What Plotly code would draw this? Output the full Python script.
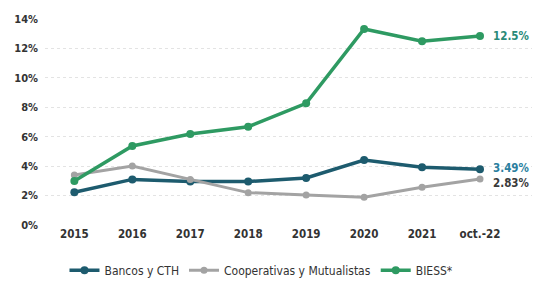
import plotly.graph_objects as go

categories = ["2015", "2016", "2017", "2018", "2019", "2020", "2021", "oct.-22"]
bancos = [2.22, 3.1, 2.95, 2.95, 3.2, 4.42, 3.92, 3.79]
cooperativas = [3.4, 4.01, 3.1, 2.2, 2.04, 1.88, 2.56, 3.13]
biess = [2.99, 5.37, 6.19, 6.68, 8.27, 13.32, 12.49, 12.85]
end_labels = ["3.49%", "2.83%", "12.5%"]
tick_vals = [0, 2, 4, 6, 8, 10, 12, 14]
tick_text = ["0%", "2%", "4%", "6%", "8%", "10%", "12%", "14%"]

c_bancos = "#1d5b6e"
c_coop = "#a3a3a3"
c_biess = "#2e9a62"

fig = go.Figure()
fig.add_trace(go.Scatter(x=categories, y=bancos, name="Bancos y CTH", mode="lines+markers",
                         line=dict(color=c_bancos, width=3.5), marker=dict(size=8, color=c_bancos)))
fig.add_trace(go.Scatter(x=categories, y=cooperativas, name="Cooperativas y Mutualistas", mode="lines+markers",
                         line=dict(color=c_coop, width=3), marker=dict(size=7, color=c_coop)))
fig.add_trace(go.Scatter(x=categories, y=biess, name="BIESS*", mode="lines+markers",
                         line=dict(color=c_biess, width=3.5), marker=dict(size=8, color=c_biess)))

label_colors = ["#2a7fa0", "#3a3a3a", "#2a8a78"]
label_y = [bancos[-1], cooperativas[-1], biess[-1]]
label_shift = [1, -4, 0]
for txt, yv, col, sh in zip(end_labels, label_y, label_colors, label_shift):
    fig.add_annotation(x=categories[-1], y=yv, text=txt, showarrow=False, xanchor="left",
                       xshift=11, yshift=sh,
                       font=dict(color=col, size=11.5, family="DejaVu Sans Condensed", weight="bold"))

fig.update_layout(
    width=539, height=276,
    margin=dict(l=37, r=15, t=11, b=59, autoexpand=False),
    paper_bgcolor="white", plot_bgcolor="white",
    font=dict(family="DejaVu Sans Condensed", size=11, color="#333333"),
    showlegend=True,
    legend=dict(orientation="h", x=0.04, y=-0.29, xanchor="left", yanchor="bottom",
                font=dict(size=12, color="#333333"), itemwidth=30, tracegroupgap=0),
)
fig.update_xaxes(type="category", showgrid=False, showline=False, ticks="", automargin=False,
                 tickfont=dict(size=11.5, weight="bold", color="#333333"))
fig.update_yaxes(range=[0, 14], tickvals=tick_vals, ticktext=tick_text, showgrid=True, automargin=False,
                 gridcolor="#e3e3e3", griddash="dot", gridwidth=1, zeroline=False, showline=False,
                 ticklabelstandoff=6,
                 tickfont=dict(size=11, weight="bold", color="#333333"))

fig.write_html("out.html")
